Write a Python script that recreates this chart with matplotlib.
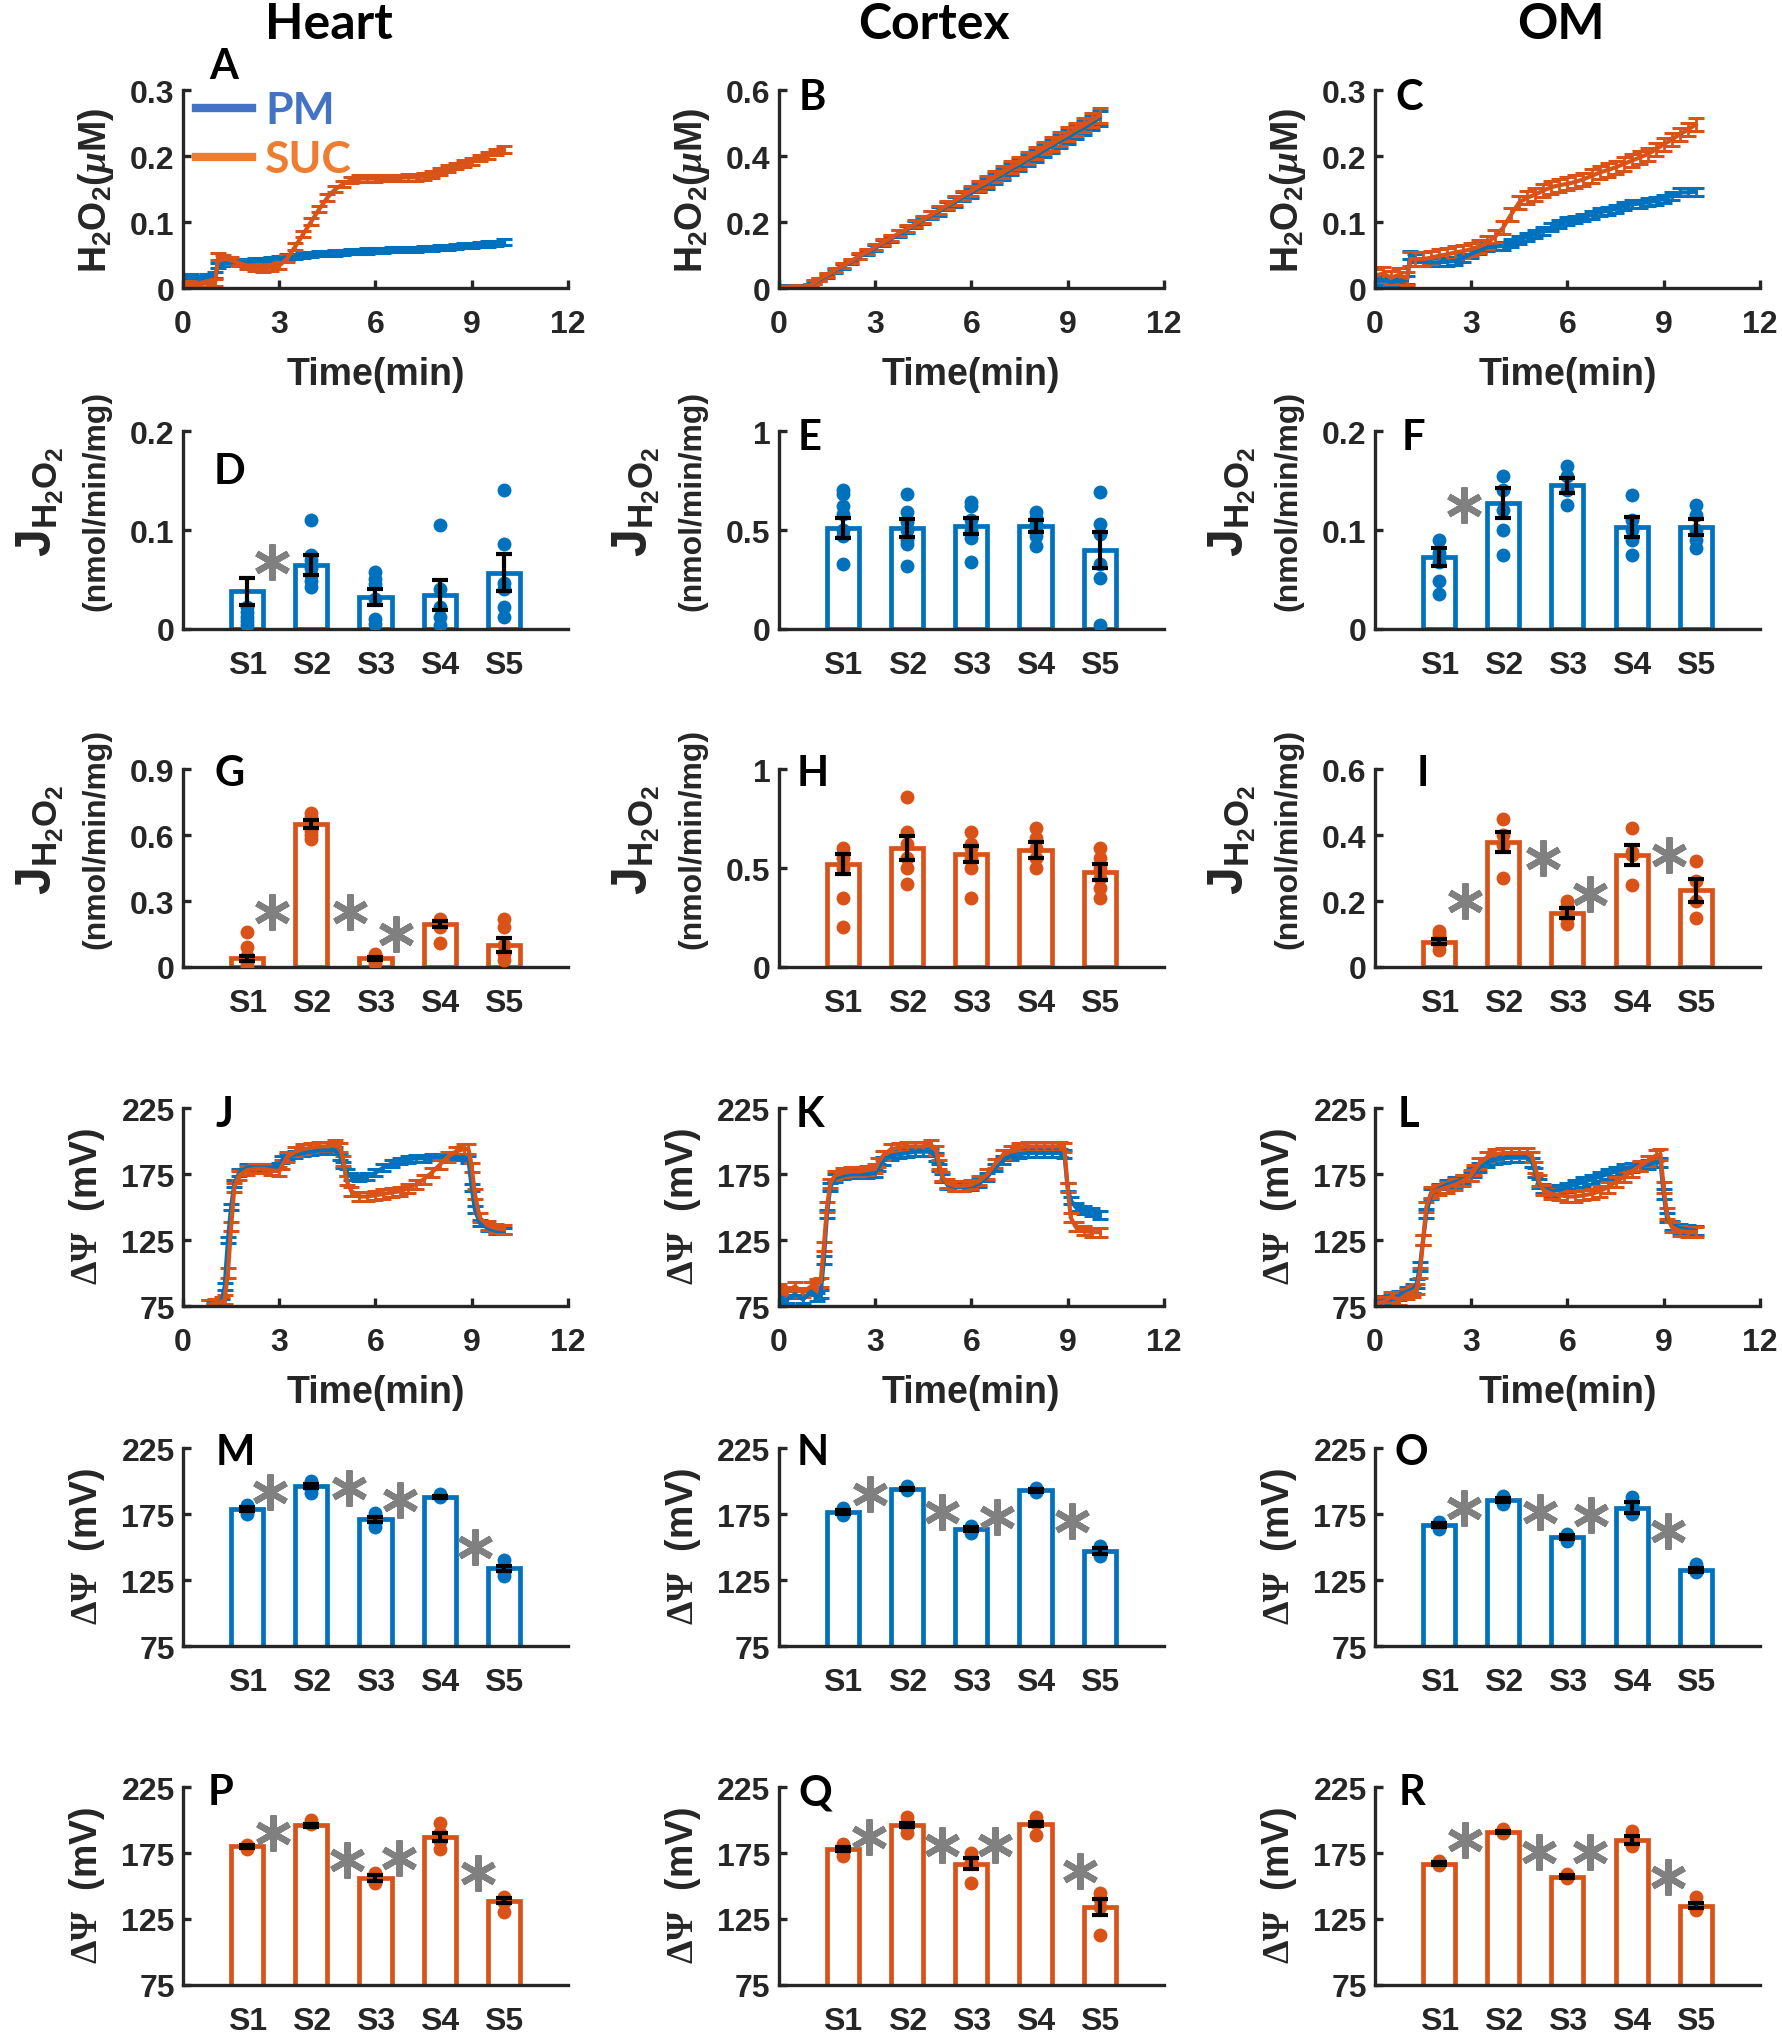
import numpy as np
import matplotlib
matplotlib.use('Agg')
import matplotlib.pyplot as plt
from matplotlib.lines import Line2D

plt.rcParams['font.family'] = ['Liberation Sans', 'DejaVu Sans']
plt.rcParams['font.weight'] = 'bold'
plt.rcParams['axes.labelweight'] = 'bold'
plt.rcParams['mathtext.fontset'] = 'custom'
plt.rcParams['mathtext.rm'] = 'Liberation Sans:bold'
plt.rcParams['mathtext.bf'] = 'Liberation Sans:bold'
plt.rcParams['mathtext.it'] = 'Liberation Serif:italic'
plt.rcParams['mathtext.sf'] = 'Liberation Serif:bold'

BLUE = '#0072BD'
ORANGE = '#D95319'
INK = '#262626'
STAR = '#808080'
CAL = 'Lato'

# ---------------- H2O2 time courses (uM) ----------------
t_h2o2 = [0, 0.25, 0.5, 0.75,
          1.0, 1.1, 1.25, 1.5, 1.75,
          2.0, 2.25, 2.5, 2.75,
          3.0, 3.25, 3.5, 3.75,
          4.0, 4.25, 4.5, 4.75,
          5.0, 5.25, 5.5, 5.75,
          6.0, 6.25, 6.5, 6.75,
          7.0, 7.25, 7.5, 7.75,
          8.0, 8.25, 8.5, 8.75,
          9.0, 9.25, 9.5, 9.75,
          10.0]

heart_pm_h2o2 = [0.015, 0.018, 0.014, 0.017,
                 0.020, 0.034, 0.037, 0.039, 0.040,
                 0.040, 0.041, 0.042, 0.043,
                 0.045, 0.047, 0.048, 0.050,
                 0.051, 0.052, 0.052, 0.053,
                 0.054, 0.055, 0.055, 0.056,
                 0.057, 0.057, 0.058, 0.058,
                 0.059, 0.059, 0.060, 0.060,
                 0.061, 0.062, 0.063, 0.064,
                 0.065, 0.066, 0.067, 0.068,
                 0.070]
heart_suc_h2o2 = [0.005, 0.006, 0.006, 0.007,
                  0.008, 0.048, 0.045, 0.042, 0.038,
                  0.034, 0.031, 0.030, 0.031,
                  0.034, 0.045, 0.063, 0.082,
                  0.101, 0.120, 0.137, 0.150,
                  0.158, 0.164, 0.166, 0.166,
                  0.166, 0.167, 0.167, 0.167,
                  0.168, 0.168, 0.169, 0.172,
                  0.177, 0.181, 0.185, 0.189,
                  0.192, 0.197, 0.201, 0.206,
                  0.210]
cortex_pm_h2o2 = [0.004, 0.006, 0.004, 0.005,
                  0.009, 0.017, 0.025, 0.037, 0.053,
                  0.066, 0.079, 0.095, 0.107,
                  0.121, 0.137, 0.149, 0.165,
                  0.177, 0.193, 0.205, 0.221,
                  0.233, 0.249, 0.261, 0.277,
                  0.289, 0.305, 0.317, 0.333,
                  0.345, 0.361, 0.373, 0.389,
                  0.401, 0.417, 0.429, 0.445,
                  0.457, 0.473, 0.485, 0.501,
                  0.515]
cortex_suc_h2o2 = [0.003, 0.004, 0.005, 0.004,
                   0.008, 0.018, 0.027, 0.040, 0.055,
                   0.068, 0.082, 0.097, 0.110,
                   0.124, 0.139, 0.152, 0.167,
                   0.180, 0.195, 0.208, 0.223,
                   0.237, 0.252, 0.266, 0.281,
                   0.295, 0.310, 0.323, 0.338,
                   0.352, 0.367, 0.380, 0.395,
                   0.409, 0.424, 0.437, 0.452,
                   0.466, 0.481, 0.494, 0.509,
                   0.523]
om_pm_h2o2 = [0.010, 0.012, 0.009, 0.011,
              0.012, 0.050, 0.045, 0.040, 0.039,
              0.039, 0.040, 0.041, 0.046,
              0.052, 0.057, 0.062, 0.063,
              0.064, 0.068, 0.073, 0.078,
              0.082, 0.087, 0.092, 0.097,
              0.102, 0.104, 0.107, 0.111,
              0.115, 0.117, 0.120, 0.124,
              0.127, 0.128, 0.130, 0.132,
              0.135, 0.140, 0.145, 0.145,
              0.146]
om_suc_h2o2 = [0.019, 0.022, 0.016, 0.020,
               0.015, 0.044, 0.044, 0.044, 0.046,
               0.049, 0.051, 0.054, 0.056,
               0.059, 0.063, 0.069, 0.078,
               0.092, 0.112, 0.130, 0.137,
               0.142, 0.148, 0.153, 0.156,
               0.158, 0.161, 0.165, 0.170,
               0.175, 0.179, 0.183, 0.188,
               0.193, 0.198, 0.203, 0.210,
               0.218, 0.225, 0.233, 0.240,
               0.248]
cortex_h2o2_sem = [0.003, 0.003, 0.003, 0.003,
                   0.004, 0.005, 0.005, 0.006, 0.006,
                   0.007, 0.007, 0.008, 0.008,
                   0.009, 0.009, 0.010, 0.010,
                   0.011, 0.011, 0.012, 0.012,
                   0.013, 0.013, 0.014, 0.014,
                   0.015, 0.015, 0.016, 0.016,
                   0.017, 0.017, 0.018, 0.018,
                   0.019, 0.019, 0.020, 0.020,
                   0.021, 0.021, 0.022, 0.022,
                   0.023]
heart_pm_h2o2_sem = 0.004
heart_suc_h2o2_sem = 0.005
om_pm_h2o2_sem = 0.006
om_suc_h2o2_sem = 0.010

# ---------------- membrane potential time courses (mV) ----------------
t_psi_heart = [0.8, 1.0, 1.2, 1.3, 1.4, 1.5, 1.6, 1.75,
               2.0, 2.25, 2.5, 2.75,
               3.0, 3.1, 3.25, 3.5, 3.75,
               4.0, 4.25, 4.5, 4.75, 4.9,
               5.0, 5.1, 5.25, 5.5, 5.75,
               6.0, 6.25, 6.5, 6.75,
               7.0, 7.25, 7.5, 7.75,
               8.0, 8.25, 8.5, 8.75, 8.9,
               9.0, 9.1, 9.25, 9.5, 9.75,
               10.0]
heart_pm_psi = [77, 77, 78, 90, 125, 150, 168, 176,
                180, 180, 180, 180,
                181, 186, 188, 190, 191,
                192, 193, 193, 193, 188,
                182, 176, 173, 172, 173,
                176, 180, 183, 185,
                186, 187, 187, 188,
                188, 188, 188, 188, 186,
                165, 148, 138, 134, 132,
                132]
heart_suc_psi = [76, 77, 78, 80, 100, 135, 165, 174,
                 178, 179, 179, 178,
                 177, 182, 188, 192, 194,
                 195, 196, 196, 197, 195,
                 185, 170, 162, 158, 158,
                 159, 160, 161, 162,
                 164, 167, 171, 176,
                 182, 188, 192, 194, 194,
                 180, 160, 142, 136, 134,
                 133]

t_psi = [0, 0.25, 0.5, 0.75,
         1.0, 1.2, 1.3, 1.4, 1.5, 1.6, 1.75,
         2.0, 2.25, 2.5, 2.75,
         3.0, 3.1, 3.25, 3.5, 3.75,
         4.0, 4.25, 4.5, 4.75, 4.9,
         5.0, 5.1, 5.25, 5.5, 5.75,
         6.0, 6.25, 6.5, 6.75,
         7.0, 7.25, 7.5, 7.75,
         8.0, 8.25, 8.5, 8.75, 8.9,
         9.0, 9.1, 9.25, 9.5, 9.75,
         10.0]
cortex_pm_psi = [82, 80, 84, 80,
                 86, 82, 84, 110, 145, 165, 172,
                 174, 175, 175, 175,
                 176, 180, 185, 189, 190,
                 191, 192, 192, 192, 188,
                 180, 172, 167, 165, 165,
                 166, 168, 173, 180,
                 186, 189, 190, 191,
                 191, 191, 191, 191, 190,
                 165, 155, 150, 148, 146,
                 144]
cortex_suc_psi = [88, 86, 90, 85,
                  90, 92, 93, 120, 150, 168, 174,
                  176, 177, 177, 178,
                  179, 184, 189, 194, 195,
                  196, 196, 196, 197, 193,
                  182, 173, 168, 166, 166,
                  167, 170, 175, 183,
                  190, 193, 195, 196,
                  196, 196, 196, 196, 195,
                  165, 142, 135, 132, 131,
                  131]
om_pm_psi = [78, 79, 80, 83,
             86, 88, 92, 105, 125, 145, 160,
             164, 167, 169, 171,
             173, 176, 180, 184, 186,
             187, 188, 188, 188, 184,
             176, 168, 164, 162, 163,
             165, 167, 169, 171,
             173, 175, 177, 179,
             180, 181, 182, 184, 184,
             160, 142, 136, 134, 133,
             132]
om_suc_psi = [77, 78, 82, 80,
              84, 86, 88, 100, 125, 150, 161,
              163, 165, 167, 170,
              174, 178, 183, 188, 190,
              191, 191, 191, 191, 188,
              180, 170, 163, 160, 159,
              158, 158, 159, 160,
              162, 165, 169, 173,
              177, 181, 185, 189, 190,
              165, 145, 135, 132, 131,
              131]
heart_pm_psi_sem = 2.5
heart_suc_psi_sem = 3.5
cortex_pm_psi_sem = 3.0
cortex_suc_psi_sem = 3.5
om_pm_psi_sem = 3.5
om_suc_psi_sem = 4.0

# ---------------- bar summaries ----------------
states = ['S1', 'S2', 'S3', 'S4', 'S5']

heart_pm_rate = [0.038, 0.065, 0.032, 0.034, 0.057]
heart_pm_rate_sem = [0.014, 0.010, 0.008, 0.015, 0.019]
heart_pm_rate_pts = [[0.022, 0.017, 0.012, 0.008, 0.004],
                     [0.110, 0.075, 0.070, 0.062, 0.055, 0.048, 0.042],
                     [0.058, 0.050, 0.045, 0.030, 0.010, 0.005],
                     [0.105, 0.040, 0.022, 0.012, 0.004],
                     [0.140, 0.086, 0.046, 0.040, 0.022, 0.012]]
cortex_pm_rate = [0.51, 0.51, 0.52, 0.52, 0.40]
cortex_pm_rate_sem = [0.05, 0.045, 0.04, 0.03, 0.09]
cortex_pm_rate_pts = [[0.70, 0.68, 0.62, 0.58, 0.50, 0.47, 0.33],
                      [0.68, 0.59, 0.54, 0.50, 0.45, 0.43, 0.32],
                      [0.64, 0.62, 0.55, 0.50, 0.46, 0.34],
                      [0.59, 0.56, 0.53, 0.50, 0.47, 0.42],
                      [0.69, 0.53, 0.48, 0.33, 0.26, 0.02]]
om_pm_rate = [0.073, 0.127, 0.145, 0.103, 0.103]
om_pm_rate_sem = [0.009, 0.015, 0.008, 0.010, 0.008]
om_pm_rate_pts = [[0.090, 0.077, 0.068, 0.048, 0.035],
                  [0.155, 0.140, 0.120, 0.100, 0.075],
                  [0.165, 0.155, 0.140, 0.125],
                  [0.135, 0.110, 0.100, 0.090, 0.075],
                  [0.125, 0.115, 0.100, 0.090, 0.082]]

heart_suc_rate = [0.04, 0.65, 0.04, 0.195, 0.10]
heart_suc_rate_sem = [0.012, 0.02, 0.006, 0.015, 0.03]
heart_suc_rate_pts = [[0.16, 0.09, 0.05, 0.03, 0.02, 0.0],
                      [0.70, 0.68, 0.66, 0.64, 0.62, 0.60, 0.58],
                      [0.06, 0.05, 0.04, 0.03, 0.02],
                      [0.22, 0.21, 0.20, 0.18, 0.11],
                      [0.22, 0.18, 0.10, 0.06, 0.03]]
cortex_suc_rate = [0.52, 0.60, 0.57, 0.59, 0.48]
cortex_suc_rate_sem = [0.05, 0.06, 0.04, 0.04, 0.04]
cortex_suc_rate_pts = [[0.60, 0.57, 0.55, 0.50, 0.35, 0.20],
                       [0.86, 0.68, 0.62, 0.55, 0.50, 0.42],
                       [0.68, 0.62, 0.60, 0.55, 0.50, 0.35],
                       [0.70, 0.65, 0.60, 0.55, 0.50],
                       [0.60, 0.55, 0.50, 0.45, 0.40, 0.35]]
om_suc_rate = [0.077, 0.38, 0.165, 0.34, 0.233]
om_suc_rate_sem = [0.008, 0.03, 0.015, 0.03, 0.035]
om_suc_rate_pts = [[0.11, 0.10, 0.09, 0.07, 0.05],
                   [0.45, 0.40, 0.37, 0.27],
                   [0.20, 0.185, 0.17, 0.15, 0.13],
                   [0.42, 0.35, 0.34, 0.25],
                   [0.32, 0.26, 0.20, 0.15]]

heart_pm_bar = [179, 196, 171, 188, 134]
heart_pm_bar_sem = [1.5, 1.5, 2, 1, 2]
heart_pm_bar_pts = [[182, 178, 175], [200, 197, 194, 191], [176, 172, 168, 165],
                    [190, 188], [140, 135, 131, 128]]
cortex_pm_bar = [177, 194, 164, 193, 147]
cortex_pm_bar_sem = [1.5, 1, 1.5, 1, 2]
cortex_pm_bar_pts = [[180, 177, 174], [196, 193], [166, 163, 161],
                     [195, 192], [151, 147, 143]]
om_pm_bar = [167, 186, 158, 180, 133]
om_pm_bar_sem = [1.5, 1.5, 1.5, 4, 1.5]
om_pm_bar_pts = [[169, 166, 164], [189, 186, 183], [160, 157, 155],
                 [188, 182, 178, 175], [137, 134, 131]]
heart_suc_bar = [180, 196, 156, 187, 139]
heart_suc_bar_sem = [1, 1, 2, 3, 2]
heart_suc_bar_pts = [[181, 178], [200, 197], [160, 156, 152],
                     [198, 190, 184, 178], [142, 138, 130]]
cortex_suc_bar = [178, 196, 167, 197, 134]
cortex_suc_bar_sem = [1.5, 1.5, 4, 1.5, 6]
cortex_suc_bar_pts = [[182, 179, 176, 173], [202, 198, 195, 190], [175, 171, 168, 152],
                      [202, 198, 189], [145, 140, 134, 113]]
om_suc_bar = [167, 191, 157, 185, 135]
om_suc_bar_sem = [1, 1, 1, 3, 2]
om_suc_bar_pts = [[169, 166], [193, 190], [159, 156],
                  [192, 186, 180], [142, 135, 132]]

# significance marks (x between states, y in data units)
stars_D = [(1.38, 0.068)]
stars_F = [(1.38, 0.125)]
stars_G = [(1.38, 0.25), (2.6, 0.25), (3.32, 0.15)]
stars_I = [(1.41, 0.20), (2.62, 0.33), (3.35, 0.22), (4.59, 0.34)]
stars_M = [(1.36, 192), (2.58, 195), (3.38, 186), (4.55, 150)]
stars_N = [(1.42, 190), (2.55, 177), (3.4, 173), (4.57, 170)]
stars_O = [(1.38, 180), (2.57, 177), (3.37, 174), (4.56, 162)]
stars_P = [(1.4, 190), (2.55, 170), (3.37, 171), (4.6, 160)]
stars_Q = [(1.41, 187), (2.54, 181), (3.37, 181), (4.7, 161)]
stars_R = [(1.41, 185), (2.55, 176), (3.35, 176), (4.56, 157)]

# ---------------- layout ----------------
fig = plt.figure(figsize=(17.82, 20.40), dpi=100)
col_x = [0.1027, 0.4371, 0.7716]
row_y = [0.8583, 0.6912, 0.5255, 0.3593, 0.1926, 0.0265]
W, H = 0.216, 0.097

LBL_H2O2 = r'H$_2$O$_2$($\mu$M)'
LBL_J = r'J$_{\mathrm{H_2O_2}}$'
LBL_UNIT = '(nmol/min/mg)'
LBL_PSI = r'$\mathsf{\Delta\Psi}$  (mV)'


def make_ax(r, c):
    ax = fig.add_axes([col_x[c], row_y[r], W, H])
    ax.spines[['top', 'right']].set_visible(False)
    ax.spines[['left', 'bottom']].set_linewidth(2.4)
    ax.spines[['left', 'bottom']].set_color(INK)
    ax.tick_params(direction='in', length=6, width=2.4, color=INK,
                   labelcolor=INK, labelsize=23)
    ax.tick_params(axis='x', pad=15)
    ax.tick_params(axis='y', pad=6)
    return ax


def set_y(ax, ylim, ticks, labels, ylabel, lx, ly, size):
    ax.set_ylim(ylim)
    ax.set_yticks(ticks, labels)
    ax.set_ylabel(ylabel, fontsize=size, color=INK, va='center')
    ax.yaxis.set_label_coords(lx, ly)


def letter(ax, s, fx, fy):
    ax.text(fx, fy, s, transform=ax.transAxes, ha='center', va='center',
            fontsize=30, fontweight='bold', family=CAL, color='black')


def time_panel(ax, t, pm, suc, pm_err, suc_err):
    ax.errorbar(t, pm, yerr=pm_err, color=BLUE, lw=3, elinewidth=2,
                capsize=6, capthick=2.2)
    ax.errorbar(t, suc, yerr=suc_err, color=ORANGE, lw=3, elinewidth=2,
                capsize=6, capthick=2.2)
    ax.set_xlim(0, 12)
    ax.set_xticks([0, 3, 6, 9, 12], ['0', '3', '6', '9', '12'])
    ax.set_xlabel('Time(min)', fontsize=27, color=INK, labelpad=12)


def bar_panel(ax, means, sems, pts, color, stars):
    x = np.arange(1, len(means) + 1)
    ax.bar(x, means, width=0.5, color='white', edgecolor=color,
           linewidth=3.4, zorder=2)
    for xi, p in zip(x, pts):
        ax.plot(np.full(len(p), xi), p, 'o', color=color, ms=10, mec='none', zorder=3)
    ax.errorbar(x, means, yerr=sems, fmt='none', ecolor='black', elinewidth=3,
                capsize=6, capthick=3, zorder=4)
    for sx, sy in stars:
        ax.plot(sx, sy, marker=(6, 2, 0), ms=26, mew=4.5, color=STAR, ls='none', zorder=5)
    ax.set_xlim(0, 6)
    ax.set_xticks(x, states)


# column titles
for cx, name in zip([0.1846, 0.524, 0.876], ['Heart', 'Cortex', 'OM']):
    fig.text(cx, 0.988, name, ha='center', va='center', fontsize=36,
             fontweight='bold', family=CAL, color='black')

# row 1: H2O2 time courses
h2o2_rows = [
    (heart_pm_h2o2, heart_suc_h2o2, heart_pm_h2o2_sem, heart_suc_h2o2_sem,
     (0, 0.3), [0, 0.1, 0.2, 0.3], ['0', '0.1', '0.2', '0.3'], 'A', (0.105, 1.12)),
    (cortex_pm_h2o2, cortex_suc_h2o2, cortex_h2o2_sem, cortex_h2o2_sem,
     (0, 0.6), [0, 0.2, 0.4, 0.6], ['0', '0.2', '0.4', '0.6'], 'B', (0.088, 0.967)),
    (om_pm_h2o2, om_suc_h2o2, om_pm_h2o2_sem, om_suc_h2o2_sem,
     (0, 0.3), [0, 0.1, 0.2, 0.3], ['0', '0.1', '0.2', '0.3'], 'C', (0.088, 0.967)),
]
for c, (pm, suc, e1, e2, yl, yt, ytl, let, lp) in enumerate(h2o2_rows):
    ax = make_ax(0, c)
    time_panel(ax, t_h2o2, pm, suc, e1, e2)
    set_y(ax, yl, yt, ytl, LBL_H2O2, -0.225, 0.5, 27)
    letter(ax, let, *lp)
    if c == 0:
        handles = [Line2D([], [], color='#4472C4', lw=6),
                   Line2D([], [], color='#ED7D31', lw=6)]
        ax.legend(handles, ['PM', 'SUC'], labelcolor=['#4472C4', '#ED7D31'],
                  prop={'family': CAL, 'weight': 'bold', 'size': 32},
                  frameon=False, loc='upper left', bbox_to_anchor=(0.035, 1.0),
                  handlelength=1.25, handletextpad=0.3, labelspacing=0.2,
                  borderpad=0, borderaxespad=0)

# rows 2-3: H2O2 production rates
rate_rows = [
    (1, BLUE, [(heart_pm_rate, heart_pm_rate_sem, heart_pm_rate_pts, stars_D,
                (0, 0.2), [0, 0.1, 0.2], ['0', '0.1', '0.2'], 'D', (0.12, 0.80)),
               (cortex_pm_rate, cortex_pm_rate_sem, cortex_pm_rate_pts, [],
                (0, 1), [0, 0.5, 1], ['0', '0.5', '1'], 'E', (0.081, 0.97)),
               (om_pm_rate, om_pm_rate_sem, om_pm_rate_pts, stars_F,
                (0, 0.2), [0, 0.1, 0.2], ['0', '0.1', '0.2'], 'F', (0.10, 0.97))]),
    (2, ORANGE, [(heart_suc_rate, heart_suc_rate_sem, heart_suc_rate_pts, stars_G,
                  (0, 0.9), [0, 0.3, 0.6, 0.9], ['0', '0.3', '0.6', '0.9'], 'G', (0.12, 0.98)),
                 (cortex_suc_rate, cortex_suc_rate_sem, cortex_suc_rate_pts, [],
                  (0, 1), [0, 0.5, 1], ['0', '0.5', '1'], 'H', (0.088, 0.98)),
                 (om_suc_rate, om_suc_rate_sem, om_suc_rate_pts, stars_I,
                  (0, 0.6), [0, 0.2, 0.4, 0.6], ['0', '0.2', '0.4', '0.6'], 'I', (0.125, 0.98))]),
]
for r, color, panels in rate_rows:
    for c, (m, s, p, st, yl, yt, ytl, let, lp) in enumerate(panels):
        ax = make_ax(r, c)
        bar_panel(ax, m, s, p, color, st)
        set_y(ax, yl, yt, ytl, LBL_UNIT, -0.225, 0.65, 23)
        ax.text(-0.37, 0.65, LBL_J, transform=ax.transAxes, rotation=90,
                ha='center', va='center', fontsize=36, color=INK)
        letter(ax, let, *lp)

# row 4: membrane potential time courses
psi_ticks = [75, 125, 175, 225]
psi_labels = ['75', '125', '175', '225']
psi_rows = [
    (t_psi_heart, heart_pm_psi, heart_suc_psi, heart_pm_psi_sem, heart_suc_psi_sem, 'J', (0.108, 0.97)),
    (t_psi, cortex_pm_psi, cortex_suc_psi, cortex_pm_psi_sem, cortex_suc_psi_sem, 'K', (0.081, 0.97)),
    (t_psi, om_pm_psi, om_suc_psi, om_pm_psi_sem, om_suc_psi_sem, 'L', (0.088, 0.97)),
]
for c, (t, pm, suc, e1, e2, let, lp) in enumerate(psi_rows):
    ax = make_ax(3, c)
    time_panel(ax, t, pm, suc, e1, e2)
    set_y(ax, (75, 225), psi_ticks, psi_labels, LBL_PSI, -0.25, 0.51, 27)
    letter(ax, let, *lp)

# rows 5-6: membrane potential summaries
psi_bar_rows = [
    (4, BLUE, [(heart_pm_bar, heart_pm_bar_sem, heart_pm_bar_pts, stars_M, 'M', (0.135, 0.98)),
               (cortex_pm_bar, cortex_pm_bar_sem, cortex_pm_bar_pts, stars_N, 'N', (0.088, 0.98)),
               (om_pm_bar, om_pm_bar_sem, om_pm_bar_pts, stars_O, 'O', (0.095, 0.98))]),
    (5, ORANGE, [(heart_suc_bar, heart_suc_bar_sem, heart_suc_bar_pts, stars_P, 'P', (0.098, 0.974)),
                 (cortex_suc_bar, cortex_suc_bar_sem, cortex_suc_bar_pts, stars_Q, 'Q', (0.095, 0.974)),
                 (om_suc_bar, om_suc_bar_sem, om_suc_bar_pts, stars_R, 'R', (0.095, 0.974))]),
]
for r, color, panels in psi_bar_rows:
    for c, (m, s, p, st, let, lp) in enumerate(panels):
        ax = make_ax(r, c)
        bar_panel(ax, m, s, p, color, st)
        set_y(ax, (75, 225), psi_ticks, psi_labels, LBL_PSI, -0.25, 0.51, 27)
        letter(ax, let, *lp)

fig.savefig('out.png', dpi=100)
